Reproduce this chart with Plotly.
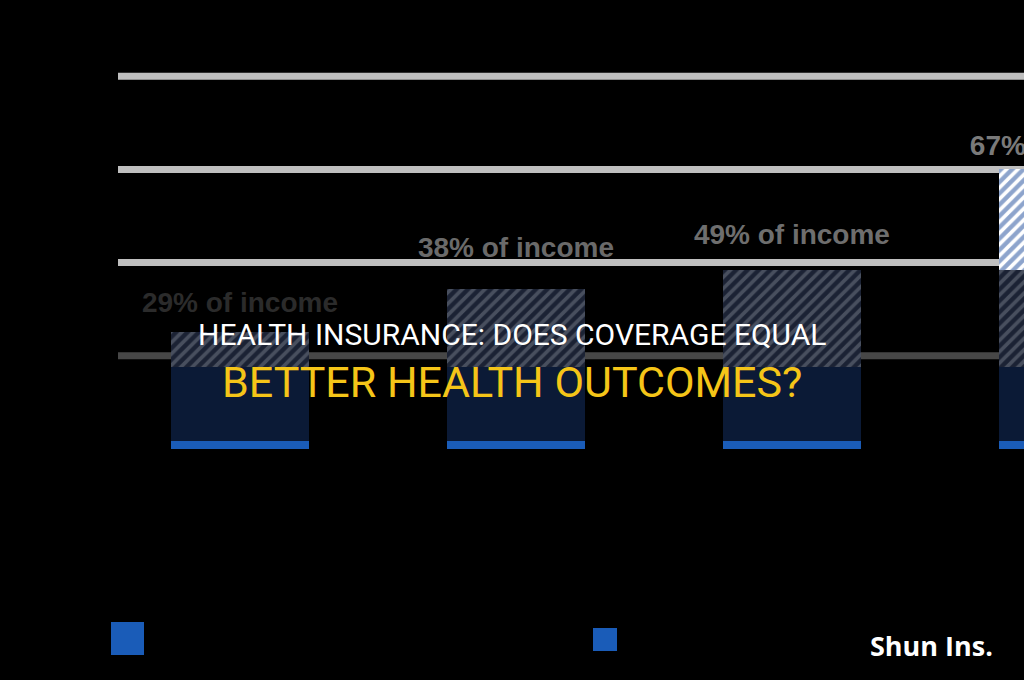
import plotly.graph_objects as go

# ---- data (units = gridline steps) ----
categories = [0, 1, 2, 3]
base_stripe = [0.09, 0.09, 0.09, 0.09]
navy_part = [0.79, 0.79, 0.79, 0.79]
gray_hatched = [0.38, 0.84, 1.04, 1.04]
blue_hatched = [0.0, 0.0, 0.0, 1.08]
label_texts = ["29% of income", "38% of income", "49% of income", "67% of income"]
label_y = [1.545, 2.135, 2.275, 3.23]
label_colors = ["#2b2b2b", "#6a6a6a", "#6e6e6e", "#7a7a7a"]
grid_values = [1, 2, 3, 4]
grid_colors = ["#474747", "#bfbfbf", "#bfbfbf", "#bfbfbf"]

BAR_W = 0.5

fig = go.Figure()
fig.add_trace(go.Bar(x=categories, y=base_stripe, width=BAR_W,
                     marker=dict(color="#1a5cb8", line=dict(width=0)),
                     showlegend=False, hoverinfo="skip"))
fig.add_trace(go.Bar(x=categories, y=navy_part, width=BAR_W,
                     marker=dict(color="#0b1a36", line=dict(width=0)),
                     showlegend=False, hoverinfo="skip"))
fig.add_trace(go.Bar(x=categories, y=gray_hatched, width=BAR_W,
                     marker=dict(color="#1b2234", line=dict(width=0),
                                 pattern=dict(shape="/", fgcolor="#767c88",
                                              bgcolor="#1b2234", size=8,
                                              solidity=0.45)),
                     showlegend=False, hoverinfo="skip"))
fig.add_trace(go.Bar(x=categories, y=blue_hatched, width=BAR_W,
                     marker=dict(color="#ffffff", line=dict(width=0),
                                 pattern=dict(shape="/", fgcolor="#1c4a9a",
                                              bgcolor="#ffffff", size=8,
                                              solidity=0.55)),
                     showlegend=False, hoverinfo="skip"))
fig.add_trace(go.Scatter(x=categories, y=label_y, mode="text", text=label_texts,
                         textposition="middle center", cliponaxis=True,
                         textfont=dict(family="Liberation Sans", size=28,
                                       color=label_colors, weight="bold"),
                         showlegend=False, hoverinfo="skip"))

for v, c in zip(grid_values, grid_colors):
    fig.add_shape(type="line", xref="paper", x0=0, x1=1, yref="y", y0=v, y1=v,
                  line=dict(color=c, width=7), layer="below")

# legend swatches
fig.add_shape(type="rect", xref="paper", yref="paper",
              x0=(111 - 118) / 906, x1=(144 - 118) / 906,
              y0=-(622 - 449) / 449, y1=-(655 - 449) / 449,
              fillcolor="#1a5cb8", line=dict(width=0))
fig.add_shape(type="rect", xref="paper", yref="paper",
              x0=(593 - 118) / 906, x1=(617 - 118) / 906,
              y0=-(628 - 449) / 449, y1=-(651 - 449) / 449,
              fillcolor="#1a5cb8", line=dict(width=0))

fig.add_annotation(text="HEALTH INSURANCE: DOES COVERAGE EQUAL", xref="paper", yref="paper",
                   x=(512 - 118) / 906, y=(449 - 334) / 449, showarrow=False,
                   xanchor="center", yanchor="middle",
                   font=dict(family="Roboto", size=30, color="#ffffff"))
fig.add_annotation(text="BETTER HEALTH OUTCOMES?", xref="paper", yref="paper",
                   x=(512 - 118) / 906, y=(449 - 382) / 449, showarrow=False,
                   xanchor="center", yanchor="middle",
                   font=dict(family="Roboto", size=43, color="#f5c518"))
fig.add_annotation(text="<b>Shun Ins.</b>", xref="paper", yref="paper",
                   x=(995 - 118) / 906, y=-(645 - 449) / 449, showarrow=False,
                   xanchor="right", yanchor="middle",
                   font=dict(family="Open Sans", size=27, color="#ffffff"))

fig.update_layout(
    width=1024, height=680,
    margin=dict(l=118, r=0, t=0, b=231),
    paper_bgcolor="#000000", plot_bgcolor="#000000",
    barmode="stack", bargap=0, showlegend=False,
    xaxis=dict(range=[-0.442, 2.841], showgrid=False, zeroline=False,
               showticklabels=False, showline=False),
    yaxis=dict(range=[0, 4.818], showgrid=False, zeroline=False,
               showticklabels=False, showline=False),
)

fig.write_html("out.html",
               config={"displayModeBar": False},
               post_script="document.body.style.margin='0';"
                           "document.body.style.background='#000';")
